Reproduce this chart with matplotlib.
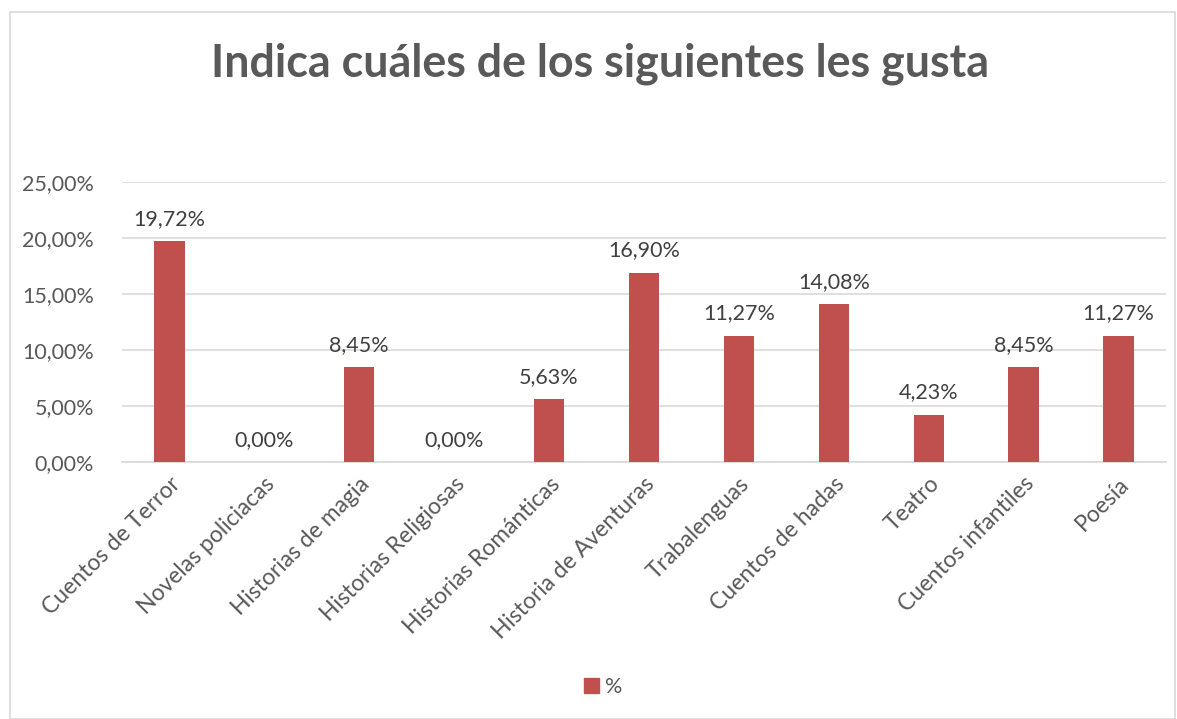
import matplotlib
matplotlib.use("Agg")
import matplotlib.pyplot as plt
from matplotlib.patches import Rectangle

categories = ["Cuentos de Terror", "Novelas policiacas", "Historias de magia",
              "Historias Religiosas", "Historias Románticas", "Historia de Aventuras",
              "Trabalenguas", "Cuentos de hadas", "Teatro", "Cuentos infantiles", "Poesía"]
values = [19.72, 0.00, 8.45, 0.00, 5.63, 16.90, 11.27, 14.08, 4.23, 8.45, 11.27]
yticks = [0, 5, 10, 15, 20, 25]
series_name = "%"
title = "Indica cuáles de los siguientes les gusta"

plt.rcParams['font.family'] = ['Lato', 'DejaVu Sans']
txt = "#595959"
bar_color = "#C0504D"

fig = plt.figure(figsize=(11.77, 7.19), dpi=100)
fig.patches.append(Rectangle((10/1177, 0), 1 - 12/1177, 1 - 12/719, transform=fig.transFigure,
                             fill=False, edgecolor="#D9D9D9", linewidth=1.2))
ax = fig.add_axes([122/1177, 1 - 462/719, (1166-122)/1177, (462-182)/719])

x = list(range(len(categories)))
ax.bar(x, values, width=0.32, color=bar_color, zorder=3)
for xi, v in zip(x, values):
    ax.text(xi, v + 1.1, f"{v:.2f}".replace(".", ",") + "%", ha="center", va="bottom",
            fontsize=15.5, color="#404040")

ax.set_xlim(-0.5, len(categories) - 0.5)
ax.set_ylim(0, 25)
ax.set_yticks(yticks)
ax.set_yticklabels([f"{t:.2f}".replace(".", ",") + "%" for t in yticks], fontsize=15.5, color=txt)
ax.yaxis.grid(True, color="#D9D9D9", linewidth=1.2, zorder=0)
ax.set_xticks(x)
ax.set_xticklabels(categories, rotation=45, ha="right", rotation_mode="anchor",
                   fontsize=16.5, color=txt)
ax.tick_params(axis="both", length=0)
ax.tick_params(axis="y", pad=20)
ax.tick_params(axis="x", pad=8)
for s in ["top", "right", "left"]:
    ax.spines[s].set_visible(False)
ax.spines["bottom"].set_color("#D9D9D9")
ax.spines["bottom"].set_linewidth(1.2)

fig.text(600/1177, 1 - 64/719, title, ha="center", va="center", fontsize=32.3,
         fontweight="bold", color=txt)

handle = Rectangle((0, 0), 1, 1, color=bar_color)
fig.legend([handle], [series_name], loc="center", bbox_to_anchor=(603/1177, 1 - 687/719),
           frameon=False, fontsize=15.5, handlelength=0.7, handleheight=0.7, handletextpad=0.3,
           labelcolor=txt)

fig.savefig("out.png", dpi=100)
